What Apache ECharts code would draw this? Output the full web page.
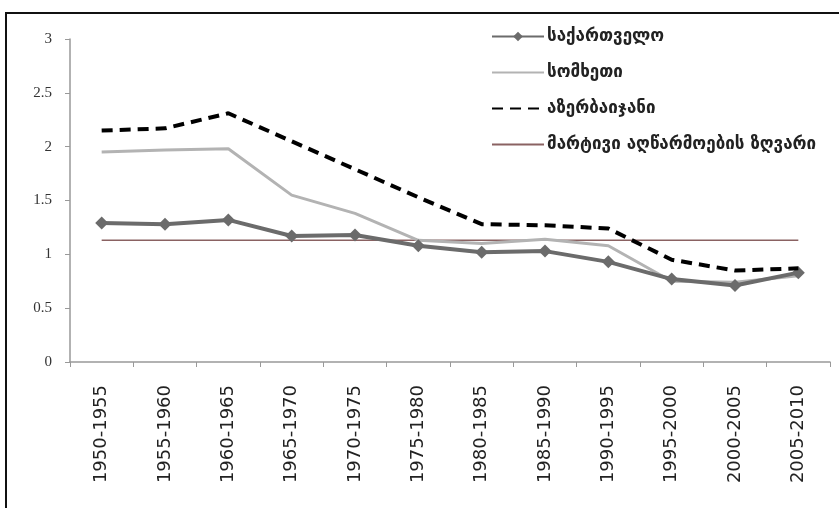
<!DOCTYPE html>
<html lang="ka">
<head>
<meta charset="UTF-8">
<title>Chart</title>
<script src="https://cdn.jsdelivr.net/npm/echarts@6/dist/echarts.min.js"></script>
<style>
    body { margin: 0; padding: 0; background: #fff; }
    #main { width: 839px; height: 508px; }
    .frame {
        position: absolute;
        left: 5px;
        top: 12px;
        width: 840px;
        height: 500px;
        border-left: 2px solid #111;
        border-top: 2px solid #111;
        pointer-events: none;
    }
</style>
</head>
<body>
<div id="main"></div>
<div class="frame"></div>
<script>
    // periods on the x axis
    const periods = ['1950-1955', '1955-1960', '1960-1965', '1965-1970', '1970-1975', '1975-1980',
        '1980-1985', '1985-1990', '1990-1995', '1995-2000', '2000-2005', '2005-2010'];

    const seriesNames = ['საქართველო', 'სომხეთი', 'აზერბაიჯანი', 'მარტივი აღწარმოების ზღვარი'];

    const georgia    = [1.29, 1.28, 1.32, 1.17, 1.18, 1.08, 1.02, 1.03, 0.93, 0.77, 0.71, 0.83];
    const armenia    = [1.95, 1.97, 1.98, 1.55, 1.38, 1.13, 1.10, 1.14, 1.08, 0.75, 0.74, 0.80];
    const azerbaijan = [2.15, 2.17, 2.31, 2.05, 1.79, 1.53, 1.28, 1.27, 1.24, 0.95, 0.85, 0.87];
    const threshold  = [1.13, 1.13, 1.13, 1.13, 1.13, 1.13, 1.13, 1.13, 1.13, 1.13, 1.13, 1.13];

    const yTicks = [0, 0.5, 1, 1.5, 2, 2.5, 3];

    const chart = echarts.init(document.getElementById('main'));

    const option = {
        backgroundColor: '#fff',
        animation: false,
        legend: {
            orient: 'vertical',
            left: 486,
            top: 23,
            itemWidth: 52,
            itemHeight: 12,
            itemGap: 19,
            textStyle: {
                fontFamily: 'DejaVu Sans',
                fontSize: 17,
                fontWeight: 'bold',
                color: '#222',
                padding: [0, 0, 0, -2]
            },
            data: [
                { name: seriesNames[0] },
                { name: seriesNames[1], itemStyle: { opacity: 0 } },
                { name: seriesNames[2], itemStyle: { opacity: 0 } },
                { name: seriesNames[3], itemStyle: { opacity: 0 } }
            ]
        },
        grid: {
            left: 70,
            right: 9,
            top: 39,
            bottom: 146
        },
        xAxis: {
            type: 'category',
            data: periods,
            boundaryGap: true,
            axisLine: { lineStyle: { color: '#999', width: 1.5 } },
            axisTick: { show: true, interval: 0, length: 5, lineStyle: { color: '#999' } },
            axisLabel: {
                interval: 0,
                rotate: 90,
                margin: 23,
                fontFamily: 'DejaVu Sans',
                fontSize: 18,
                color: '#222'
            }
        },
        yAxis: {
            type: 'value',
            min: yTicks[0],
            max: yTicks[yTicks.length - 1],
            interval: 0.5,
            axisLine: { show: true, lineStyle: { color: '#999', width: 1.5 } },
            axisTick: { show: true, length: 5, lineStyle: { color: '#999' } },
            splitLine: { show: false },
            axisLabel: {
                margin: 18,
                fontFamily: 'Liberation Serif',
                fontSize: 15,
                color: '#333'
            }
        },
        series: [
            {
                name: seriesNames[0],
                type: 'line',
                data: georgia,
                z: 4,
                symbol: 'diamond',
                symbolSize: 13,
                itemStyle: { color: '#6b6b6b' },
                lineStyle: { color: '#6b6b6b', width: 4 }
            },
            {
                name: seriesNames[1],
                type: 'line',
                data: armenia,
                z: 3,
                symbol: 'none',
                itemStyle: { color: '#b3b3b3' },
                lineStyle: { color: '#b3b3b3', width: 3 }
            },
            {
                name: seriesNames[2],
                type: 'line',
                data: azerbaijan,
                z: 5,
                symbol: 'none',
                itemStyle: { color: '#000' },
                lineStyle: { color: '#000', width: 4, type: [11, 7] }
            },
            {
                name: seriesNames[3],
                type: 'line',
                data: threshold,
                z: 2,
                symbol: 'none',
                itemStyle: { color: '#8a6262' },
                lineStyle: { color: '#8a6262', width: 1.5 }
            }
        ]
    };

    chart.setOption(option);
</script>
</body>
</html>
